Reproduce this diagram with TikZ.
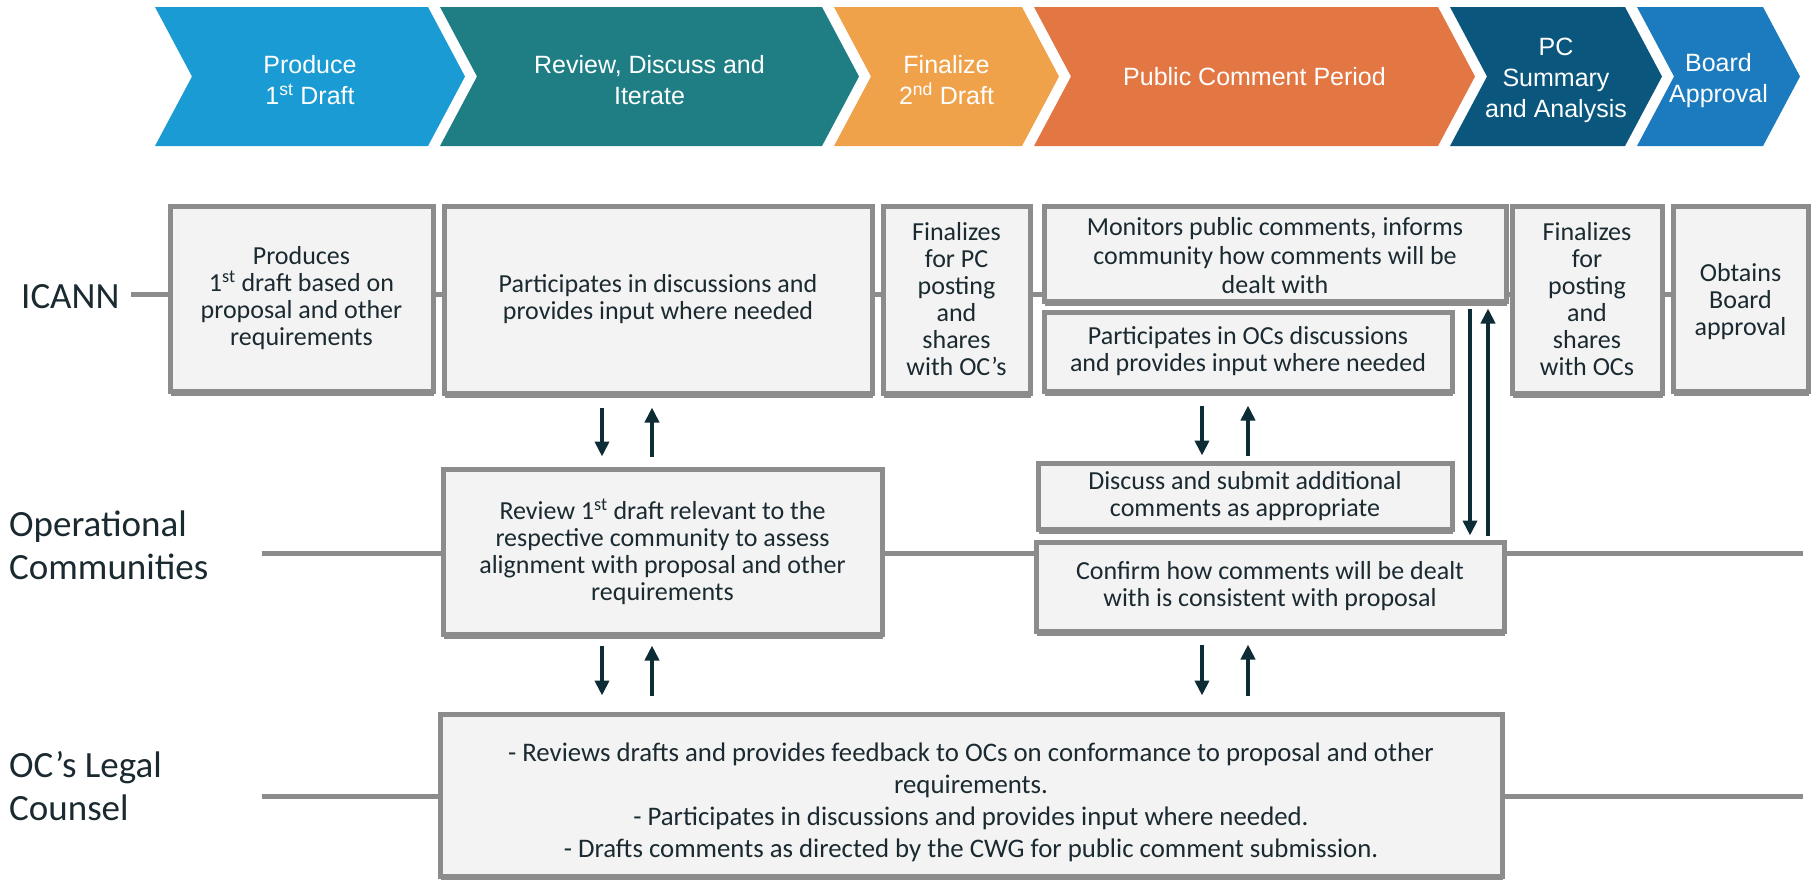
\documentclass[tikz,border=0pt]{standalone}
\usepackage{fontspec}
\setmainfont{Carlito}
\newfontfamily\chevfont{Liberation Sans}
\usetikzlibrary{arrows.meta,backgrounds,shadows,calc}
\definecolor{cA}{HTML}{1B9BD3}
\definecolor{cB}{HTML}{1F7E84}
\definecolor{cC}{HTML}{F0A24B}
\definecolor{cD}{HTML}{E27744}
\definecolor{cE}{HTML}{0A567C}
\definecolor{cF}{HTML}{1C7BBF}
\definecolor{boxfill}{HTML}{F3F3F3}
\definecolor{boxline}{HTML}{8C8C8C}
\definecolor{txt}{HTML}{1A2A30}
\definecolor{arrowc}{HTML}{0E2C35}
\newcommand{\drawchev}[3]{\fill[#3] (#1,7) -- (#2,7) -- ({#2+37},76.5) -- (#2,146) -- (#1,146) -- ({#1+37},76.5) -- cycle;}
\tikzset{
  box/.style={draw=boxline, line width=5pt, fill=boxfill, inner sep=0pt, align=center, text=txt,
    font=\fontsize{26}{27}\selectfont,
    drop shadow={shadow xshift=1pt, shadow yshift=-5pt, fill=boxline, opacity=1}},
  boxtext/.style={inner sep=0pt, align=center, text=txt},
  lane/.style={draw=boxline, line width=5pt},
  arr/.style={draw=arrowc, line width=4pt, -{Triangle[width=14pt,length=15pt]}},
  chevtext/.style={text=white, font=\chevfont\fontsize{25}{31}\selectfont, align=center, inner sep=0pt},
  lanelabel/.style={text=txt, font=\fontsize{37}{43}\selectfont, align=left, inner sep=0pt, anchor=west},
}
\begin{document}
\begin{tikzpicture}[x=1pt,y=-1pt]
\useasboundingbox (0,0) rectangle (1815,879);
% chevrons
\drawchev{155}{428}{cA}
\drawchev{440}{822}{cB}
\drawchev{834}{1022}{cC}
\drawchev{1034}{1438}{cD}
\drawchev{1450}{1625}{cE}
\drawchev{1637}{1763}{cF}
\node[chevtext] (t1) at (310,80) {Produce\\1\textsuperscript{st} Draft};
\node[chevtext] (t2) at (649.5,80) {Review, Discuss and\\Iterate};
\node[chevtext] (t3) at (946.5,80) {Finalize\\2\textsuperscript{nd} Draft};
\node[chevtext] (t4) at (1254.5,76.5) {Public Comment Period};
\node[chevtext] (t5) at (1556,80.5) {PC\\Summary\\and Analysis};
\node[chevtext] (t6) at (1718.5,81) {Board\\Approval};
% lane labels
\node[lanelabel] (icann) at (21,297) {ICANN};
\node[lanelabel] (opc) at (9,545) {Operational\\Communities};
\node[lanelabel] (legal) at (9,786) {OC’s Legal\\Counsel};
% boxes
\node[box, minimum width=263pt, minimum height=185pt] (A) at (301.5,298.5) {Produces\\1\textsuperscript{st} draft based on\\proposal and other\\requirements};
\node[box, minimum width=428pt, minimum height=187pt] (B) at (658,299.5) {Participates in discussions and\\provides input where needed};
\node[box, minimum width=147pt, minimum height=187pt] (C) at (956.5,299.5) {Finalizes\\for PC\\posting\\and\\shares\\with OC’s};
\node[box, minimum width=462pt, minimum height=95pt] (D) at (1275,253.5) {};
\node[boxtext, font=\fontsize{26}{29}\selectfont] (Dt) at ($(D.center)+(0,2)$) {Monitors public comments, informs\\community how comments will be\\dealt with};
\node[box, minimum width=408pt, minimum height=79pt] (E) at (1248,351.5) {Participates in OCs discussions\\and provides input where needed};
\node[box, minimum width=150pt, minimum height=187pt] (F) at (1587,299.5) {Finalizes\\for\\posting\\and\\shares\\with OCs};
\node[box, minimum width=135pt, minimum height=185pt] (G) at (1740.5,298.5) {};
\node[boxtext, font=\fontsize{26}{27}\selectfont] (Gt) at ($(G.center)+(0,3.5)$) {Obtains\\Board\\approval};
\node[box, minimum width=439pt, minimum height=165pt] (H) at (662.5,551.5) {Review 1\textsuperscript{st} draft relevant to the\\respective community to assess\\alignment with proposal and other\\requirements};
\node[box, minimum width=414pt, minimum height=66pt] (I) at (1245,496) {Discuss and submit additional\\comments as appropriate};
\node[box, minimum width=468pt, minimum height=89pt] (J) at (1270,586.5) {Confirm how comments will be dealt\\with is consistent with proposal};
\node[box, minimum width=1062pt, minimum height=162pt] (K) at (971,795) {};
\node[boxtext, font=\fontsize{26.8}{32}\selectfont] (Kt) at ($(K.center)+(0,7)$) {- Reviews drafts and provides feedback to OCs on conformance to proposal and other\\requirements.\\- Participates in discussions and provides input where needed.\\- Drafts comments as directed by the CWG for public comment submission.};
% lanes
\begin{pgfonlayer}{background}
\fill[white] (0,0) rectangle (1815,879);
\coordinate (icL) at (131,294);
\draw[lane] (icL) -- (icL -| G.west);
\coordinate (ocL) at (262,553);
\coordinate (ocR) at (1803,553);
\draw[lane] (ocL) -- (ocR);
\coordinate (lgL) at (262,796);
\coordinate (lgR) at (1803,796);
\draw[lane] (lgL) -- (lgR);
\end{pgfonlayer}
% arrows
\coordinate (x1) at (602,0);
\coordinate (x2) at (652,0);
\coordinate (x3) at (1202,0);
\coordinate (x4) at (1248,0);
\coordinate (x5) at (1470,0);
\coordinate (x6) at (1488,0);
\draw[arr] ($(B.south -| x1)+(0,12)$) -- ($(H.north -| x1)+(0,-10)$);
\draw[arr] ($(H.north -| x2)+(0,-10)$) -- ($(B.south -| x2)+(0,12)$);
\draw[arr] ($(E.south -| x3)+(0,12)$) -- ($(I.north -| x3)+(0,-5)$);
\draw[arr] ($(I.north -| x4)+(0,-5)$) -- ($(E.south -| x4)+(0,12)$);
\draw[arr] ($(H.south -| x1)+(0,9)$) -- ($(K.north -| x1)+(0,-16)$);
\draw[arr] ($(K.north -| x2)+(0,-16)$) -- ($(H.south -| x2)+(0,9)$);
\draw[arr] ($(J.south -| x3)+(0,11)$) -- ($(K.north -| x3)+(0,-16)$);
\draw[arr] ($(K.north -| x4)+(0,-16)$) -- ($(J.south -| x4)+(0,11)$);
\draw[arr] ($(D.south -| x5)+(0,5)$) -- ($(J.north -| x5)+(0,-4)$);
\draw[arr] ($(J.north -| x6)+(0,-4)$) -- ($(D.south -| x6)+(0,5)$);
\end{tikzpicture}
\end{document}
